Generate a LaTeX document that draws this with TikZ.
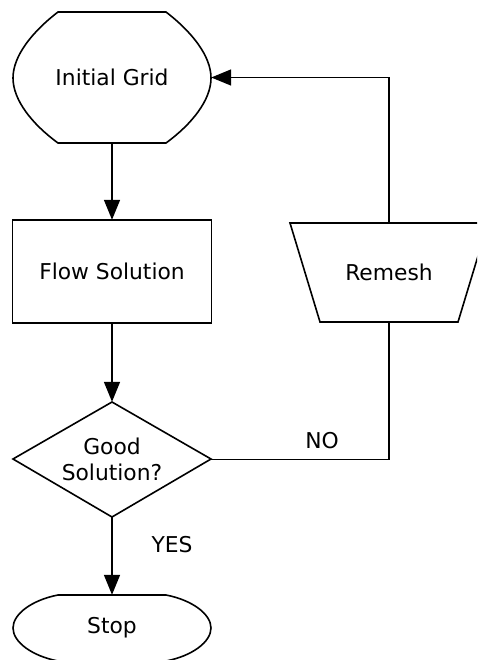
\documentclass[tikz,border=0pt]{standalone}
\usepackage{fontspec}
\setmainfont{DejaVu Sans}
\usetikzlibrary{arrows.meta}
\begin{document}
\begin{tikzpicture}[x=1pt,y=-1pt,
  outline/.style={draw=black,line width=1.6pt,line join=miter},
  conn/.style={draw=black,line width=1.6pt},
  arr/.style={conn,-{Triangle[length=20pt,width=16pt]}},
  lbl/.style={inner sep=0pt,align=center,font=\fontsize{21.8}{26}\selectfont},
]
\useasboundingbox (0,0) rectangle (477,660);
\clip (0,0) rectangle (477,660);
% shapes
\path[outline] (58,12) -- (166,12) .. controls (192,32) and (211,56) .. (211,78)
  .. controls (211,100) and (192,124) .. (166,143) -- (58,143)
  .. controls (32,124) and (13,100) .. (13,78)
  .. controls (13,56) and (32,32) .. (58,12) -- cycle;
\path[outline] (12.5,220) rectangle (211.5,323);
\path[outline] (290,223) -- (488,223) -- (458,322) -- (320,322) -- cycle;
\path[outline] (112,402) -- (211,459) -- (112,517) -- (13,459) -- cycle;
\path[outline] (58,595) -- (166,595) .. controls (192,600) and (211,614) .. (211,628)
  .. controls (211,642) and (192,656) .. (166,661) -- (58,661)
  .. controls (32,656) and (13,642) .. (13,628)
  .. controls (13,614) and (32,600) .. (58,595) -- cycle;
% named nodes (text + anchors)
\node[lbl,minimum width=198pt,minimum height=131pt] (ig) at (112,77.5) {Initial Grid};
\node[lbl,minimum width=199pt,minimum height=103pt] (fs) at (112,271.5) {Flow Solution};
\node[lbl,minimum width=196pt,minimum height=99pt] (rm) at (389,272.5) {Remesh};
\node[lbl,minimum width=198pt,minimum height=115pt] (gs) at (112,459.5) {Good\\Solution?};
\node[lbl,minimum width=198pt,minimum height=66pt] (st) at (112,628) {Stop};
\node[lbl] (yes) at (172,545) {YES};
\node[lbl] (no) at (322,441) {NO};
% connectors
\draw[arr] (ig.south) -- (fs.north);
\draw[arr] (fs.south) -- (gs.north);
\draw[arr] (gs.south) -- (st.north);
\draw[conn] (gs.east) -| (rm.south);
\draw[arr] (rm.north) |- (ig.east);
\end{tikzpicture}
\end{document}
